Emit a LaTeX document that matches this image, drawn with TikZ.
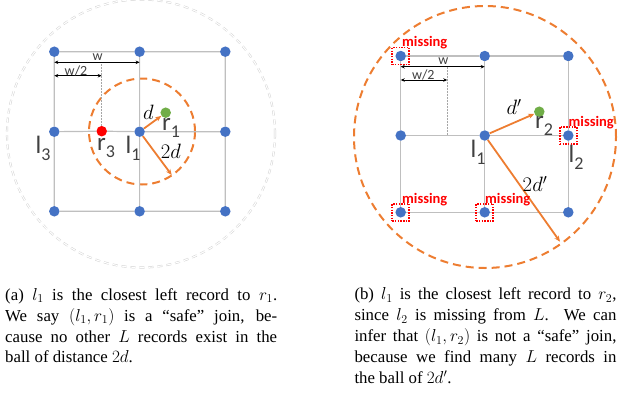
\documentclass[tikz,border=0pt]{standalone}
\usepackage{fontspec}
\setmainfont{Liberation Serif}
\newfontfamily\lblfont{Carlito}
\usetikzlibrary{arrows.meta}
\definecolor{dotblue}{HTML}{4472C4}
\definecolor{dotgreen}{HTML}{70AD47}
\definecolor{dotred}{HTML}{FF0000}
\definecolor{ballorange}{HTML}{ED7D31}
\definecolor{gridgray}{HTML}{BFBFBF}
\definecolor{lblgray}{HTML}{404040}
\newcommand\lab[2]{{\lblfont\fontsize{25}{25}\selectfont #1\raisebox{-0.28em}{\fontsize{18}{18}\selectfont #2}}}
\newcommand\capsize{\fontsize{16.8}{20}\selectfont}
\newcommand\jline[1]{\makebox[272pt][s]{#1}}
\newcommand\kline[1]{\makebox[262pt][s]{#1}}
\tikzset{
  pt/.style={circle,fill=#1,inner sep=0pt,minimum size=10.5pt},
  gridline/.style={draw=gridgray,line width=1.2pt},
  ball/.style={draw=ballorange,line width=2pt,dash pattern=on 8pt off 5pt},
  graybal/.style={draw=gray!35,line width=0.5pt,double=white,double distance=1.1pt,dash pattern=on 5pt off 4pt},
  rad/.style={draw=ballorange,line width=1.8pt,-{Stealth[length=6pt,width=5pt]}},
  dim/.style={draw=black,line width=0.7pt,{Stealth[length=4pt,width=3.5pt]}-{Stealth[length=4pt,width=3.5pt]}},
  guide/.style={draw=gray!70,line width=0.5pt,densely dotted},
  lbl/.style={inner sep=0pt,text=lblgray},
  mlbl/.style={inner sep=0pt,font=\fontsize{21}{21}\selectfont},
  wlbl/.style={inner sep=0pt,text=lblgray,font=\lblfont\fontsize{14}{14}\selectfont},
  miss/.style={inner sep=0pt,anchor=west,text=red,font=\lblfont\bfseries\fontsize{14.5}{14.5}\selectfont},
  missbox/.style={draw=red,line width=1.5pt,dash pattern=on 1.5pt off 1.2pt,minimum size=17pt,inner sep=0pt},
  captxt/.style={anchor=base west,inner sep=0pt,font=\capsize}
}
\begin{document}
\begin{tikzpicture}[x=1pt,y=-1pt]
\useasboundingbox (0,0) rectangle (618,394);
\clip (0,0) rectangle (618,394);
% ---------------- left panel ----------------
\draw[graybal] (141,133.5) circle[radius=134pt];
\draw[ball] (142,131.5) circle[radius=53pt];
\node[pt=dotblue] (a11) at (54.3,51.7) {};
\node[pt=dotblue] (a21) at (139.6,51.7) {};
\node[pt=dotblue] (a31) at (225.3,51.7) {};
\node[pt=dotblue] (a12) at (54.3,131.7) {};
\node[pt=dotblue] (a22) at (139.6,131.7) {};
\node[pt=dotblue] (a32) at (225.3,131.7) {};
\node[pt=dotblue] (a13) at (54.3,211.3) {};
\node[pt=dotblue] (a23) at (139.6,211.3) {};
\node[pt=dotblue] (a33) at (225.3,211.3) {};
\node[pt=dotred] (r3) at (101.7,131.2) {};
\node[pt=dotgreen] (r1) at (165.7,112.7) {};
\draw[gridline] (a11) -- (a21) (a21) -- (a31) (a12) -- (r3) (r3) -- (a22) (a22) -- (a32) (a13) -- (a23) (a23) -- (a33)
  (a11) -- (a12) (a12) -- (a13) (a21) -- (a22) (a22) -- (a23) (a31) -- (a32) (a32) -- (a33);
\coordinate (aw1) at (54.3,62.3);
\coordinate (aw2) at (139.6,62.3);
\coordinate (ah1) at (54.3,75.7);
\coordinate (ah2) at (101.7,75.7);
\coordinate (ag) at (101.7,62.3);
\draw[guide] (ag) -- (r3);
\draw[dim] (aw1) -- (aw2);
\draw[dim] (ah1) -- (ah2);
\node[wlbl] (awl) at (97.7,57) {w};
\node[wlbl] (ahl) at (76,70.5) {w/2};
\coordinate (a2d) at (171.7,175);
\draw[rad] (a22) -- (r1);
\draw[rad] (a22) -- (a2d);
\node[mlbl] (adl) at (148.5,112) {$d$};
\node[mlbl] (a2dl) at (171,151.5) {$2d$};
\node[lbl] (l3l) at (43,148) {\lab{l}{3}};
\node[lbl] (r3l) at (106,148) {\lab{r}{3}};
\node[lbl] (l1l) at (133,148) {\lab{l}{1}};
\node[lbl] (r1l) at (171,128) {\lab{r}{1}};
% captions left
\node[captxt] (ca1) at (5,300) {\jline{(a) $l_1$ is the closest left record to $r_1$.}};
\node[captxt] (ca2) at (5,321) {\jline{We say $(l_1, r_1)$ is a “safe” join, be-}};
\node[captxt] (ca3) at (5,342) {\jline{cause no other $L$ records exist in the}};
\node[captxt] (ca4) at (5,362.5) {ball of distance $2d$.};
% ---------------- right panel ----------------
\draw[ball] (485,137) circle[radius=131pt];
\node[pt=dotblue] (b11) at (400.7,56) {};
\node[pt=dotblue] (b21) at (484.7,56) {};
\node[pt=dotblue] (b31) at (568.3,56) {};
\node[pt=dotblue] (b12) at (400.7,135.5) {};
\node[pt=dotblue] (b22) at (484.7,135.5) {};
\node[pt=dotblue] (b32) at (568.3,135.5) {};
\node[pt=dotblue] (b13) at (400.7,212.3) {};
\node[pt=dotblue] (b23) at (484.7,212.3) {};
\node[pt=dotblue] (b33) at (568.3,212.3) {};
\node[pt=dotgreen] (r2) at (539.3,111.7) {};
\draw[gridline] (b11) -- (b21) (b21) -- (b31) (b12) -- (b22) (b22) -- (b32) (b13) -- (b23) (b23) -- (b33)
  (b11) -- (b12) (b12) -- (b13) (b21) -- (b22) (b22) -- (b23) (b31) -- (b32) (b32) -- (b33);
\coordinate (bw1) at (400.7,66.7);
\coordinate (bw2) at (484.7,66.7);
\coordinate (bh1) at (400.7,80);
\coordinate (bh2) at (447.3,80);
\coordinate (bg1) at (447.3,66.7);
\coordinate (bg2) at (447.3,135.5);
\draw[guide] (bg1) -- (bg2);
\draw[dim] (bw1) -- (bw2);
\draw[dim] (bh1) -- (bh2);
\node[wlbl] (bwl) at (443.3,61.5) {w};
\node[wlbl] (bhl) at (423.3,74.5) {w/2};
\coordinate (b2d) at (560,241.7);
\draw[rad] (b22) -- (r2);
\draw[rad] (b22) -- (b2d);
\node[mlbl] (bdl) at (514,107) {$d'$};
\node[mlbl] (b2dl) at (535,184) {$2d'$};
\node[lbl] (bl1l) at (478,152) {\lab{l}{1}};
\node[lbl] (r2l) at (544,126) {\lab{r}{2}};
\node[lbl] (l2l) at (576,157) {\lab{l}{2}};
\node[missbox] (m1) at (b11) {};
\node[missbox] (m2) at (b32) {};
\node[missbox] (m3) at (b13) {};
\node[missbox] (m4) at (b23) {};
\node[miss] (m1l) at (402,42.5) {missing};
\node[miss] (m2l) at (568.5,122.5) {missing};
\node[miss] (m3l) at (402,199.5) {missing};
\node[miss] (m4l) at (485,199.5) {missing};
% captions right
\node[captxt] (cb1) at (354.3,299.5) {\kline{(b) $l_1$ is the closest left record to $r_2$,}};
\node[captxt] (cb2) at (354.3,320.5) {\kline{since $l_2$ is missing from $L$. We can}};
\node[captxt] (cb3) at (354.3,341.5) {\kline{infer that $(l_1, r_2)$ is not a “safe” join,}};
\node[captxt] (cb4) at (354.3,362.5) {\kline{because we find many $L$ records in}};
\node[captxt] (cb5) at (354.3,383.5) {the ball of $2d'$.};
\end{tikzpicture}
\end{document}
